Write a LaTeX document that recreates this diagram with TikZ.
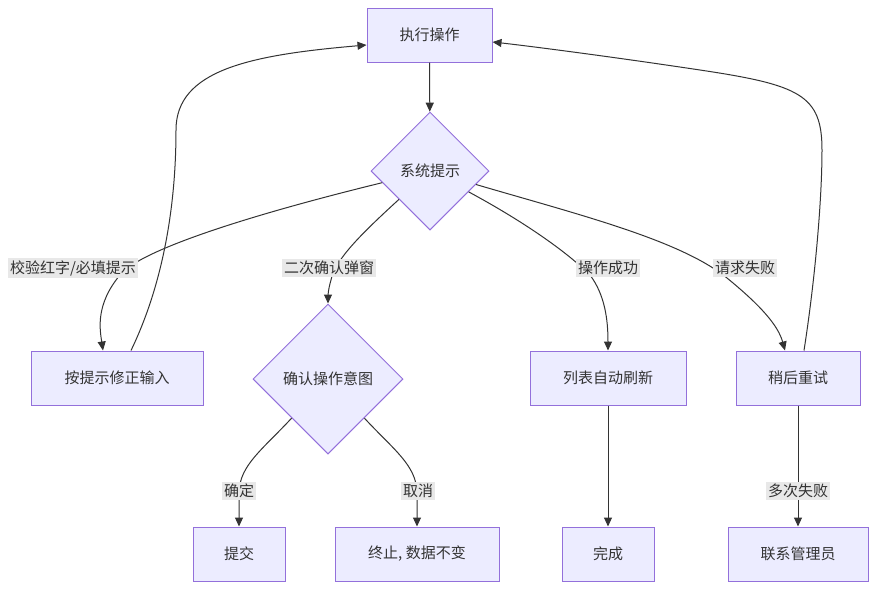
\documentclass[tikz,border=0pt]{standalone}
\usepackage{fontspec}
\setmainfont{Noto Sans CJK SC}
\usetikzlibrary{arrows.meta,shapes.geometric}
\definecolor{nodefill}{HTML}{ECECFF}
\definecolor{nodeline}{HTML}{9370DB}
\definecolor{edgecol}{HTML}{333333}
\definecolor{lblbg}{HTML}{E8E8E8}
\begin{document}
\begin{tikzpicture}[x=1pt,y=-1pt,
  txt/.style={text=edgecol, font=\fontsize{15}{18}\selectfont},
  box/.style={txt, draw=nodeline, fill=nodefill, line width=1pt, minimum height=54pt, inner sep=0pt},
  dia/.style={txt, diamond, draw=nodeline, fill=nodefill, line width=1pt, inner sep=0pt},
  edge/.style={draw=edgecol, line width=1pt, -{Triangle[length=9pt,width=8pt]}},
  lbl/.style={txt, fill=lblbg, inner sep=2pt}
]
\useasboundingbox (0,0) rectangle (876,590);
% nodes
\node[box, minimum width=125pt] (exec) at (429.5,35) {执行操作};
\node[dia, minimum width=118pt, minimum height=118pt] (sys) at (430,171) {系统提示};
\node[box, minimum width=172pt] (fix) at (117,378) {按提示修正输入};
\node[dia, minimum width=150pt, minimum height=150pt] (conf) at (328,379) {确认操作意图};
\node[box, minimum width=156pt] (list) at (608,378) {列表自动刷新};
\node[box, minimum width=124pt] (retry) at (798,378) {稍后重试};
\node[box, minimum width=92pt] (submit) at (239,554) {提交};
\node[box, minimum width=164pt] (abort) at (417,554) {终止, 数据不变};
\node[box, minimum width=92pt] (done) at (608,554) {完成};
\node[box, minimum width=140pt] (admin) at (798,554) {联系管理员};
% edges
\draw[edge] (exec) -- (sys);
\draw[edge] (sys) .. controls (250,215) and (140,250) .. (120,275) .. controls (95,305) and (100,330) .. ([xshift=-14pt]fix.north);
\draw[edge] (sys) .. controls (360,235) and (335,260) .. (331,280) .. controls (328,290) and (328,297) .. (conf.north);
\draw[edge] (sys) .. controls (530,225) and (570,255) .. (590,275) .. controls (605,295) and (608,320) .. (list.north);
\draw[edge] (sys) .. controls (580,215) and (680,240) .. (727,278) .. controls (760,305) and (778,325) .. ([xshift=-13pt]retry.north);
\draw[edge] ([xshift=14pt]fix.north) .. controls (165,280) and (176,200) .. (176,130) .. controls (176,70) and (250,55) .. ([yshift=-10pt]exec.west);
\draw[edge] ([xshift=6pt]retry.north) .. controls (815,280) and (822,200) .. (822,150) .. controls (822,95) and (800,85) .. (700,70) .. controls (600,55) and (520,45) .. ([yshift=-7pt]exec.east);
\draw[edge] (conf) .. controls (262,450) and (240,465) .. (239,492) -- (submit.north);
\draw[edge] (conf) .. controls (394,450) and (416,465) .. (417,492) -- (abort.north);
\draw[edge] (list) -- (done);
\draw[edge] (retry) -- (admin);
% labels
\node[lbl] (l1) at (73,268) {校验红字/必填提示};
\node[lbl] (l2) at (329,268) {二次确认弹窗};
\node[lbl] (l3) at (608,268) {操作成功};
\node[lbl] (l4) at (745,268) {请求失败};
\node[lbl] (l5) at (239,491) {确定};
\node[lbl] (l6) at (418,491) {取消};
\node[lbl] (l7) at (798,491) {多次失败};
\end{tikzpicture}
\end{document}
